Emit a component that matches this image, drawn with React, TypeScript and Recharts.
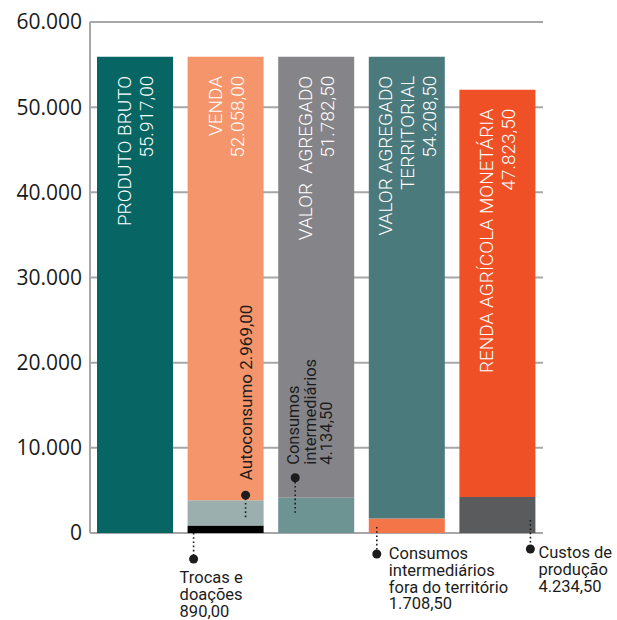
import { BarChart, Bar, XAxis, YAxis, CartesianGrid, Cell, LabelList } from 'recharts';

// values in R$
const categories = ['Produto bruto', 'Venda', 'Valor agregado', 'Valor agregado territorial', 'Renda agrícola monetária'];
const baseValues = [0, 890, 0, 0, 0];
const middleValues = [0, 2969, 4134.5, 1708.5, 4234.5];
const topValues = [55917, 52058, 51782.5, 54208.5, 47823.5];
const yTicks = [0, 10000, 20000, 30000, 40000, 50000, 60000];

const barLabels = [
    ['PRODUTO BRUTO', '55.917,00'],
    ['VENDA', '52.058,00'],
    ['VALOR  AGREGADO', '51.782,50'],
    ['VALOR AGREGADO', 'TERRITORIAL', '54.208,50'],
    ['RENDA AGRÍCOLA MONETÁRIA', '47.823,50'],
];
const autoconsumoLabel = ['Autoconsumo 2.969,00'];
const consumosLabel = ['Consumos', 'intermediários', '4.134,50'];
const trocasLabel = ['Trocas e', 'doações', '890,00'];
const foraLabel = ['Consumos', 'intermediários', 'fora do território', '1.708,50'];
const custosLabel = ['Custos de', 'produção', '4.234,50'];

const topColors = ['#076664', '#f5956b', '#858589', '#4a7a7b', '#f05026'];
const middleColors = ['#076664', '#9aafae', '#6d9393', '#f47548', '#5a5b5d'];
const baseColors = ['#076664', '#000000', '#6d9393', '#f47548', '#5a5b5d'];

const data = categories.map((name, i) => ({
    name,
    base: baseValues[i],
    middle: middleValues[i],
    top: topValues[i],
}));

const NOTE_FONT = 'Roboto, "Noto Sans", sans-serif';
const INK = '#1c1c1c';

const formatTick = (v: number) => (v === 0 ? '0' : `${v / 1000}.000`);

const Pointer = ({ x, y1, y2 }: { x: number; y1: number; y2: number }) => (
    <g>
        <line x1={x} x2={x} y1={y1} y2={y2} stroke={INK} strokeWidth={1.6} strokeDasharray="1.6 2.6" />
        <circle cx={x} cy={y2} r={4.5} fill={INK} />
    </g>
);

// horizontal block of text lines
const NoteText = ({ x, y, lines, step }: { x: number; y: number; lines: string[]; step: number }) => (
    <text x={x} y={y} fontSize={16.5} fontFamily={NOTE_FONT} fill={INK}>
        {lines.map((l, i) => (
            <tspan key={i} x={x} dy={i === 0 ? 0 : step}>{l}</tspan>
        ))}
    </text>
);

// rotated block, reading bottom-up
const RotText = ({ x, y, lines, step, anchor, ...rest }: any) => (
    <text
        x={x}
        y={y}
        transform={`rotate(-90 ${x} ${y})`}
        textAnchor={anchor}
        style={{ whiteSpace: 'pre' }}
        {...rest}
    >
        {lines.map((l: string, i: number) => (
            <tspan key={i} x={x} dy={i === 0 ? 0 : step}>{l}</tspan>
        ))}
    </text>
);

const renderLabels = (props: any) => {
    const vb = props.viewBox ?? props;
    const x = Number(props.x ?? vb.x);
    const y = Number(props.y ?? vb.y);
    const width = Number(props.width ?? vb.width);
    const height = Number(props.height ?? vb.height);
    const index: number = props.index;
    const unit = height / topValues[index];
    const midTop = y + height;
    const bottom = midTop + (middleValues[index] + baseValues[index]) * unit;

    const lines = barLabels[index];
    const step = 22;
    const bx = x + width / 2 - ((lines.length - 1) * step) / 2 + 7;
    const main = (
        <RotText x={bx} y={y + 19} lines={lines} step={step} anchor="end"
            fill="#fff" fontSize={19} fontWeight={300} fontFamily={NOTE_FONT} />
    );

    let extra = null;
    if (index === 1) {
        extra = (
            <g>
                <Pointer x={x + 58} y1={midTop + 17} y2={midTop - 5} />
                <RotText x={x + 64} y={midTop - 20} lines={autoconsumoLabel} step={17} anchor="start"
                    fill={INK} fontSize={17} fontFamily={NOTE_FONT} />
                <Pointer x={x + 6} y1={bottom} y2={bottom + 26} />
                <NoteText x={x - 8} y={bottom + 50} lines={trocasLabel} step={17} />
            </g>
        );
    } else if (index === 2) {
        extra = (
            <g>
                <Pointer x={x + 17} y1={midTop + 15} y2={midTop - 20} />
                <RotText x={x + 21} y={midTop - 33} lines={consumosLabel} step={16.5} anchor="start"
                    fill={INK} fontSize={16.5} fontFamily={NOTE_FONT} />
            </g>
        );
    } else if (index === 3) {
        extra = (
            <g>
                <Pointer x={x + 8} y1={bottom - 6} y2={bottom + 21} />
                <NoteText x={x + 20} y={bottom + 26} lines={foraLabel} step={16.8} />
            </g>
        );
    } else if (index === 4) {
        extra = (
            <g>
                <Pointer x={x + 71} y1={bottom - 13} y2={bottom + 16} />
                <NoteText x={x + 79} y={bottom + 25} lines={custosLabel} step={17} />
            </g>
        );
    }

    return (
        <g key={`lbl-${index}`}>
            {main}
            {extra}
        </g>
    );
};

export default function App() {
    return (
        <div style={{ position: 'absolute', left: 0, top: 0, width: 617, height: 620, background: '#fff' }}>
            <BarChart width={617} height={620} data={data} barSize={76}
                margin={{ top: 22, right: 74, bottom: 87, left: 0 }}>
                <CartesianGrid vertical={false} stroke="#a7a7a7" strokeWidth={2} />
                <XAxis dataKey="name" hide />
                <YAxis
                    width={90}
                    domain={[0, 60000]}
                    ticks={yTicks}
                    tickFormatter={formatTick}
                    tickLine={false}
                    axisLine={{ stroke: '#a7a7a7', strokeWidth: 2 }}
                    tick={{ fontSize: 21, fill: '#1a1a1a', fontFamily: '"Open Sans", sans-serif' }}
                    interval={0}
                />
                <Bar dataKey="base" stackId="a" isAnimationActive={false}>
                    {data.map((_, i) => <Cell key={i} fill={baseColors[i]} />)}
                </Bar>
                <Bar dataKey="middle" stackId="a" isAnimationActive={false}>
                    {data.map((_, i) => <Cell key={i} fill={middleColors[i]} />)}
                </Bar>
                <Bar dataKey="top" stackId="a" isAnimationActive={false}>
                    {data.map((_, i) => <Cell key={i} fill={topColors[i]} />)}
                    <LabelList dataKey="top" content={renderLabels} />
                </Bar>
            </BarChart>
        </div>
    );
}
